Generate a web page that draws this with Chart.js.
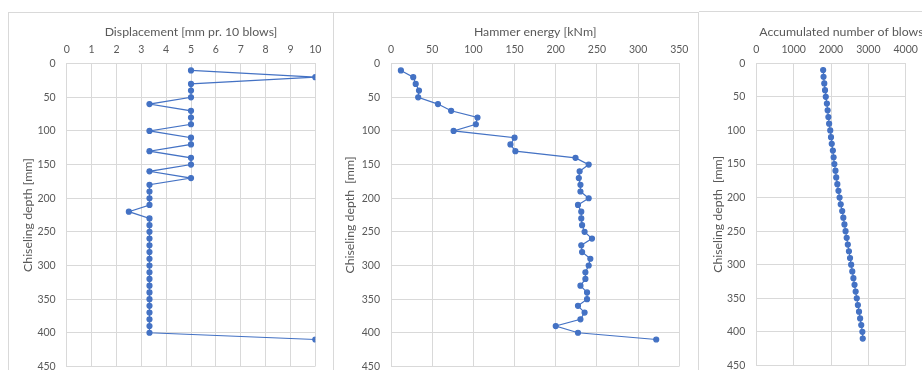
<!DOCTYPE html>
<html>
<head>
<meta charset="utf-8">
<script src="https://cdn.jsdelivr.net/npm/chart.js@4.4.0/dist/chart.umd.min.js"></script>
<style>
  html, body { margin: 0; padding: 0; background: #fff; overflow: hidden; width: 922px; height: 370px; }
  .panel { position: absolute; border: 1px solid #d9d9d9; background: #fff; }
  .panel canvas { display: block; }
</style>
</head>
<body>
<div class="panel" id="p1" style="left:8px; top:12px; width:324px; height:380px;"><canvas id="c1"></canvas></div>
<div class="panel" id="p2" style="left:334px; top:12px; width:364px; height:380px; border-left:none;"><canvas id="c2"></canvas></div>
<div class="panel" id="p3" style="left:699px; top:11px; width:250px; height:380px; border-left:none;"><canvas id="c3"></canvas></div>
<script>
// chiseling depth [mm]
const depth = [10, 20, 30, 40, 50, 60, 70, 80, 90, 100, 110, 120, 130, 140, 150, 160, 170, 180, 190, 200,
  210, 220, 230, 240, 250, 260, 270, 280, 290, 300, 310, 320, 330, 340, 350, 360, 370, 380, 390, 400, 410];

// displacement [mm pr. 10 blows]
const displacement = [5, 10, 5, 5, 5, 3.33, 5, 5, 5, 3.33, 5, 5, 3.33, 5, 5, 3.33, 5, 3.33, 3.33, 3.33,
  3.33, 2.5, 3.33, 3.33, 3.33, 3.33, 3.33, 3.33, 3.33, 3.33, 3.33, 3.33, 3.33, 3.33, 3.33, 3.33, 3.33, 3.33, 3.33, 3.33, 10];

// hammer energy [kNm]
const energy = [12, 27, 30, 34, 33, 57, 73, 105, 103, 76, 150, 145, 151, 224, 240, 229, 228, 230, 230, 240,
  227, 231, 231, 232, 235, 244, 231, 232, 242, 240, 236, 236, 230, 238, 238, 227, 235, 230, 200, 227, 322];

// accumulated number of blows
const blows = [1790, 1800, 1820, 1840, 1860, 1890, 1910, 1930, 1950, 1980, 2000, 2020, 2050, 2070, 2090, 2120, 2140, 2170, 2200, 2230,
  2260, 2300, 2330, 2360, 2390, 2420, 2450, 2480, 2510, 2540, 2570, 2600, 2630, 2660, 2690, 2720, 2750, 2780, 2810, 2840, 2850];

const depthTicks = [0, 50, 100, 150, 200, 250, 300, 350, 400, 450];

const txt = '#595959';
const grid = '#d9d9d9';
const blue = '#4472c4';
const fam = 'Lato, "Open Sans", sans-serif';
const titleSize = 12.3;
const tickSize = 10.5;

// the last title is wider than its plot, so draw it unsqueezed (Excel lets it run off)
const freeTitle = {
  id: 'freeTitle',
  afterDraw(chart, args, opts) {
    if (!opts.text) return;
    const ctx = chart.ctx;
    ctx.save();
    ctx.font = titleSize + 'px ' + fam;
    ctx.fillStyle = txt;
    ctx.textAlign = 'left';
    ctx.textBaseline = 'middle';
    ctx.fillText(opts.text, chart.chartArea.left + opts.dx, opts.y);
    ctx.restore();
  }
};

function makeChart(id, xs, xTitle, yTitle, xMax, xStep, box) {
  return new Chart(document.getElementById(id), {
    type: 'scatter',
    data: {
      datasets: [{
        data: depth.map((d, i) => ({ x: xs[i], y: d })),
        showLine: true,
        borderColor: blue,
        backgroundColor: blue,
        borderWidth: 1.2,
        pointRadius: 2.5,
        pointHoverRadius: 2.5
      }]
    },
    plugins: [freeTitle],
    options: {
      responsive: true,
      maintainAspectRatio: false,
      animation: false,
      layout: { padding: { left: box.pl, top: box.pt, right: box.pr, bottom: box.pb } },
      plugins: {
        legend: { display: false },
        tooltip: { enabled: false },
        freeTitle: box.free ? { text: xTitle, dx: box.free.dx, y: box.free.y } : { text: '' }
      },
      scales: {
        x: {
          type: 'linear',
          position: 'top',
          min: 0,
          max: xMax,
          grid: { color: grid, drawTicks: false },
          border: { color: grid },
          ticks: { stepSize: xStep, autoSkip: false, padding: 7.7, color: txt, font: { family: fam, size: tickSize },
            callback: v => String(v) },
          title: { display: !box.free, text: xTitle, color: txt, padding: 0, font: { family: fam, size: titleSize } },
          afterFit: s => { s.height = box.xh; s.paddingLeft = 0; s.paddingRight = 0; }
        },
        y: {
          type: 'linear',
          reverse: true,
          min: 0,
          max: 450,
          afterBuildTicks: s => { s.ticks = depthTicks.map(v => ({ value: v })); },
          grid: { color: grid, drawTicks: false },
          border: { color: grid },
          ticks: { padding: 11, color: txt, font: { family: fam, size: tickSize }, callback: v => String(v) },
          title: { display: true, text: yTitle, color: txt, padding: 0, font: { family: fam, size: titleSize } },
          afterFit: s => { s.width = box.yw; s.paddingTop = 0; s.paddingBottom = 0; }
        }
      }
    }
  });
}

makeChart('c1', displacement, 'Displacement [mm pr. 10 blows]', 'Chiseling depth [mm]', 10, 1,
  { pl: 11.6, pt: 11.6, pr: 17.7, pb: 26.6, yw: 46.1, xh: 39.1 });
makeChart('c2', energy, 'Hammer energy [kNm]', 'Chiseling depth  [mm]', 350, 50,
  { pl: 8.6, pt: 11.9, pr: 18.7, pb: 26.6, yw: 48.4, xh: 38.8 });
makeChart('c3', blows, 'Accumulated number of blows', 'Chiseling depth  [mm]', 4000, 1000,
  { pl: 11.6, pt: 11.9, pr: 43.3, pb: 26.6, yw: 45.7, xh: 39.4, free: { dx: 3, y: 19.7 } });
</script>
</body>
</html>
